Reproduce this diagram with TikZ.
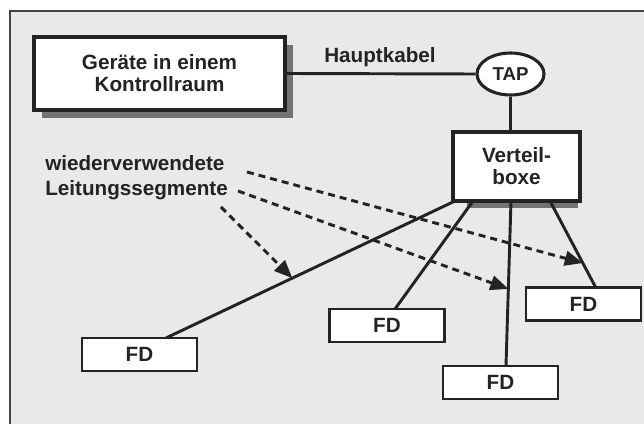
\documentclass[tikz,border=0pt]{standalone}
\usepackage{fontspec}
\setmainfont{Liberation Sans}
\usetikzlibrary{shapes.geometric,arrows.meta}
\definecolor{bg}{RGB}{231,233,235}
\definecolor{ink}{RGB}{35,35,35}
\definecolor{shadowc}{RGB}{115,115,115}
\definecolor{framec}{RGB}{70,70,70}
\tikzset{
  txt/.style={font=\fontsize{15.5}{16.5}\selectfont\bfseries, text=ink},
  box/.style={draw=ink, line width=2.3pt, fill=white, inner sep=0pt, align=center, txt},
  fdbox/.style={box, line width=2.1pt, minimum width=86.25pt, minimum height=24.75pt},
  wire/.style={draw=ink, line width=2.2pt},
  reuse/.style={draw=ink, line width=2.2pt, dash pattern=on 5.25pt off 3.75pt,
    -{Triangle[length=13.5pt,width=11pt]}},
  lbl/.style={inner sep=0pt, txt},
}
\begin{document}
\begin{tikzpicture}[x=0.75pt,y=-0.75pt]
\useasboundingbox (0,0) rectangle (644,424);
\fill[bg] (10,11) rectangle (644,424);
\draw[framec, line width=1.5pt] (10,424) -- (10,11) -- (644,11);

% shadows
\fill[shadowc] (42,45) rectangle (293,118);
\fill[shadowc] (467,200) rectangle (578,208);

% nodes
\node[box, minimum width=188.25pt, minimum height=54.75pt] (cr) at (159.5,73.5)
  {Geräte in einem\\Kontrollraum};
\node[box, ellipse, minimum width=50.25pt, minimum height=31.5pt,
  font=\fontsize{14}{16}\selectfont\bfseries] (tap) at (510.5,74) {TAP};
\node[box, minimum width=95.25pt, minimum height=51.75pt] (vb) at (516.5,166.5) {Verteil-\\boxe};
\node[lbl, anchor=base west] (hk) at (324,63) {Hauptkabel};
\node[lbl, anchor=base west] (w1) at (45,170.7) {wiederverwendete};
\node[lbl, anchor=base west] (w2) at (45,196) {Leitungssegmente};

% branch points
\coordinate (b1) at (455,201);
\coordinate (b2) at (473,201);
\coordinate (b3) at (511,201);
\coordinate (b4) at (550,201);
\coordinate (e1) at (166,338);
\coordinate (e2) at (395,309);
\coordinate (e3) at (506,366);
\coordinate (e4) at (596,288);

% main wires
\draw[wire] (cr.east) -- (tap.west);
\draw[wire] (tap.south) -- (tap.south |- vb.north);
\draw[wire] (b1) -- (e1);
\draw[wire] (b2) -- (e2);
\draw[wire] (b3) -- (e3);
\draw[wire] (b4) -- (e4);

% FD boxes
\node[fdbox] (fd1) at (139.5,354.5) {FD};
\node[fdbox] (fd2) at (387,325.5) {FD};
\node[fdbox] (fd3) at (500.5,382.5) {FD};
\node[fdbox] (fd4) at (583.5,304) {FD};

% targets on reused segments
\path (b1) -- (e1) coordinate[pos=0.563] (t1);
\path (b3) -- (e3) coordinate[pos=0.533] (t2);
\path (b4) -- (e4) coordinate[pos=0.713] (t3);

% dashed arrows from the label
\coordinate (s1) at (247,172);
\coordinate (s2) at (238,191);
\coordinate (s3) at (221,207);
\draw[reuse] (s1) -- (t3);
\draw[reuse] (s2) -- (t2);
\draw[reuse] (s3) -- (t1);
\end{tikzpicture}
\end{document}
